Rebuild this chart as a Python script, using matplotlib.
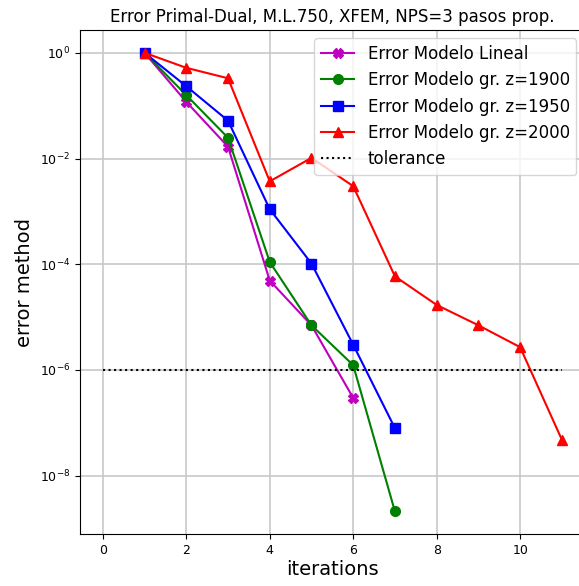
import numpy as np
import matplotlib
matplotlib.use('Agg')
import matplotlib.pyplot as plt
from matplotlib.ticker import LogLocator, NullLocator

# errores por iteración
it_lineal = [1, 2, 3, 4, 5, 6]
err_lineal = [1.0, 0.118, 0.0167, 4.9e-5, 7.0e-6, 2.95e-7]

it_1900 = [1, 2, 3, 4, 5, 6, 7]
err_1900 = [1.0, 0.158, 0.0247, 1.1e-4, 7.0e-6, 1.23e-6, 2.1e-9]

it_1950 = [1, 2, 3, 4, 5, 6, 7]
err_1950 = [1.0, 0.233, 0.052, 1.1e-3, 1.03e-4, 3.0e-6, 7.9e-8]

it_2000 = [1, 2, 3, 4, 5, 6, 7, 8, 9, 10, 11]
err_2000 = [1.0, 0.52, 0.33, 3.7e-3, 1.03e-2, 3.0e-3, 5.9e-5, 1.7e-5, 7.0e-6, 2.7e-6, 4.8e-8]

tol_x = [0, 11]
tol = 1e-6

fig = plt.figure(figsize=(5.79, 5.86), dpi=100)
ax = fig.add_axes([0.138, 0.088, 0.872, 0.861])

ax.semilogy(it_lineal, err_lineal, color='m', marker='X', markersize=7, lw=1.5,
            label='Error Modelo Lineal')
ax.semilogy(it_1900, err_1900, color='g', marker='o', markersize=7, lw=1.5,
            label='Error Modelo gr. z=1900')
ax.semilogy(it_1950, err_1950, color='b', marker='s', markersize=7, lw=1.5,
            label='Error Modelo gr. z=1950')
ax.semilogy(it_2000, err_2000, color='r', marker='^', markersize=7, lw=1.5,
            label='Error Modelo gr. z=2000')
ax.semilogy(tol_x, [tol, tol], color='k', linestyle=':', lw=1.5, label='tolerance')

ax.yaxis.set_major_locator(LogLocator(base=100))
ax.yaxis.set_minor_locator(NullLocator())
ax.set_xticks([0, 2, 4, 6, 8, 10])
ax.grid(color='#c8c8c8', lw=1.2)
ax.tick_params(labelsize=9)

ax.set_title('Error Primal-Dual, M.L.750, XFEM, NPS=3 pasos prop.', fontsize=12)
ax.set_xlabel('iterations', fontsize=14, labelpad=2)
ax.set_ylabel('error method', fontsize=14)
ax.legend(loc='upper right', fontsize=12)

fig.savefig('out.png', dpi=100)
